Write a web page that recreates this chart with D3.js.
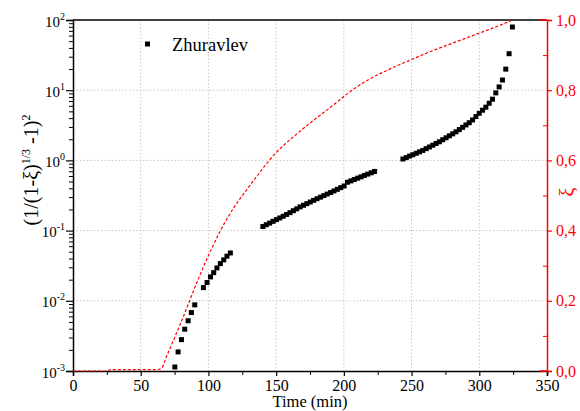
<!DOCTYPE html>
<html><head><meta charset="utf-8">
<script src="https://cdn.jsdelivr.net/npm/d3@7"></script>
<style>body{margin:0;background:#fff}svg{display:block}</style>
</head><body>
<svg id="c" width="580" height="411"></svg>
<script>
// ---- data ----
const seriesName = "Zhuravlev";
const timeSeg1 = [75.2,77.6,80.1,82.5,85.0,87.4,89.9,96.3,99.0,101.5,103.9,106.3,108.8,111.3,113.7,116.2];
const valSeg1 = [0.00114,0.00187,0.0028,0.00394,0.0052,0.0068,0.00875,0.0154,0.0182,0.0219,0.0252,0.0294,0.0339,0.0383,0.0432,0.0480];
const timeSeg2 = [140.2,142.7,145.2,147.7,150.2,152.7,155.2,157.7,160.2,162.7,165.2,167.7,170.2,172.7,175.2,177.7,180.2,182.7,185.2,187.7,190.2,192.7,195.2,197.7,200.2,202.7,205.2,207.7,210.2,212.7,215.2,217.7,220.2,222.7];
const valSeg2 = [0.1143,0.1211,0.1279,0.1355,0.1432,0.1514,0.1600,0.1698,0.1803,0.1919,0.2042,0.2178,0.2296,0.2421,0.2553,0.2698,0.2844,0.2992,0.3148,0.3311,0.3483,0.3673,0.3873,0.4093,0.4325,0.4887,0.5105,0.5346,0.5585,0.5834,0.6109,0.6383,0.6668,0.6966];
const timeSeg3 = [243.6,246.05,248.5,250.95,253.4,255.85,258.3,260.75,263.2,265.65,268.1,270.55,273.0,275.45,277.9,280.35,282.8,285.25,287.7,290.15,292.6,295.05,297.5,299.95,302.4,304.85,307.3,309.75,312.2,314.65,317.1,319.55,322.0,324.45];
const valSeg3 = [1.047,1.096,1.151,1.205,1.262,1.324,1.387,1.469,1.552,1.644,1.742,1.841,1.968,2.099,2.239,2.388,2.553,2.748,2.958,3.199,3.443,3.767,4.207,4.688,5.188,5.728,6.516,7.447,9.162,11.14,13.96,19.95,33.11,79.43];
const xiTime = [0,25,28,62,65.3,69,73.9,78.8,83.8,88.7,93.6,98.5,103.4,108.3,113.3,118.2,123,128,133,138,144,150,157,164.8,172,179.6,192,203,211,219,233.8,250.3,265.8,283,300.2,312,323.5];
const xiVal  = [0,0,0.004,0.004,0.008,0.041,0.085,0.130,0.177,0.226,0.272,0.316,0.357,0.396,0.431,0.462,0.489,0.515,0.541,0.566,0.596,0.622,0.648,0.674,0.697,0.720,0.757,0.791,0.813,0.832,0.860,0.888,0.913,0.938,0.963,0.980,0.998];
const xTicks = [0,50,100,150,200,250,300,350];
const xMinor = [25,75,125,175,225,275,325];
const yExps = [-3,-2,-1,0,1,2];
const y2Ticks = [0,0.2,0.4,0.6,0.8,1.0];
const y2Minor = [0.1,0.3,0.5,0.7,0.9];
const y2Labels = ["0,0","0,2","0,4","0,6","0,8","1,0"];

// ---- layout ----
const L=73,R=547,T=20,B=371;
const FONT="'Liberation Serif','Times New Roman',serif";
const svg=d3.select("#c");
const x=d3.scaleLinear().domain([0,350]).range([L,R]);
const y=d3.scaleLog().domain([1e-3,1e2]).range([B,T]);
const y2=d3.scaleLinear().domain([0,1]).range([B,T]);

// grid
const g=svg.append("g");
g.selectAll("line.vg").data(xTicks.filter(d=>d>0&&d<350)).enter().append("line")
 .attr("x1",d=>x(d)).attr("x2",d=>x(d)).attr("y1",T).attr("y2",B)
 .attr("stroke","#c8c8c8").attr("stroke-dasharray","1.5,2");
g.selectAll("line.hg").data(yExps.filter(e=>e>-3&&e<2)).enter().append("line")
 .attr("x1",L).attr("x2",R).attr("y1",e=>y(Math.pow(10,e))).attr("y2",e=>y(Math.pow(10,e)))
 .attr("stroke","#c8c8c8").attr("stroke-dasharray","1.5,2");

// top border
svg.append("line").attr("x1",L).attr("x2",R).attr("y1",T).attr("y2",T).attr("stroke","#000").attr("stroke-width",1.5);

// bottom axis
const xAxis=d3.axisBottom(x).tickValues(xTicks).tickSize(5).tickPadding(4).tickFormat(d3.format("d"));
const xa=svg.append("g").attr("transform",`translate(0,${B})`).call(xAxis);
xa.select(".domain").attr("stroke-width",1.5);
xa.selectAll(".tick line").attr("stroke-width",1.2);
xa.selectAll("text").attr("font-family",FONT).attr("font-size",16).attr("fill","#000");
const xm=d3.axisBottom(x).tickValues(xMinor).tickSize(4).tickFormat("");
svg.append("g").attr("transform",`translate(0,${B})`).call(xm).call(s=>s.select(".domain").remove());

// left axis
const minorVals=[];
for(let e=-3;e<2;e++){for(let k=2;k<10;k++)minorVals.push(k*Math.pow(10,e));}
const yAxis=d3.axisLeft(y).tickValues(yExps.map(e=>Math.pow(10,e))).tickSize(7).tickFormat("");
const ya=svg.append("g").attr("transform",`translate(${L},0)`).call(yAxis);
ya.select(".domain").attr("stroke-width",1.5);
ya.selectAll(".tick line").attr("stroke-width",1.2);
svg.append("g").attr("transform",`translate(${L},0)`).call(d3.axisLeft(y).tickValues(minorVals).tickSize(4).tickFormat("")).call(s=>s.select(".domain").remove());
ya.selectAll(".tick").each(function(d,i){
  const t=d3.select(this).append("text").attr("x",-8).attr("y",6).attr("text-anchor","end")
   .attr("font-family",FONT).attr("font-size",15).attr("fill","#000");
  t.append("tspan").text("10");
  t.append("tspan").attr("dy",-7).attr("font-size",10).text(String(yExps[i]));
});

// right axis
const y2a=svg.append("g").attr("transform",`translate(${R},0)`)
 .call(d3.axisRight(y2).tickValues(y2Ticks).tickSize(5).tickPadding(4).tickFormat((d,i)=>y2Labels[i]));
y2a.select(".domain").attr("stroke","#ff0000").attr("stroke-width",1.5);
y2a.selectAll(".tick line").attr("stroke","#ff0000").attr("stroke-width",1.2);
y2a.selectAll("text").attr("fill","#ff0000").attr("font-family",FONT).attr("font-size",16);
svg.append("g").attr("transform",`translate(${R},0)`)
 .call(d3.axisLeft(y2).tickValues(y2Minor).tickSize(4).tickFormat(""))
 .call(s=>s.select(".domain").remove()).selectAll("line").attr("stroke","#ff0000");
svg.append("g").selectAll("line").data([0,1]).enter().append("line")
 .attr("x1",R-7).attr("x2",R).attr("y1",d=>y2(d)).attr("y2",d=>y2(d)).attr("stroke","#ff0000").attr("stroke-width",1.5);

// xi curve
const xiData=xiTime.map((t,i)=>[t,xiVal[i]]);
svg.append("path").datum(xiData)
 .attr("d",d3.line().x(d=>x(d[0])).y(d=>y2(d[1])).curve(d3.curveMonotoneX))
 .attr("fill","none").attr("stroke","#ff0000").attr("stroke-width",1.2).attr("stroke-dasharray","3,2");

// points
const pts=[];
[[timeSeg1,valSeg1],[timeSeg2,valSeg2],[timeSeg3,valSeg3]].forEach(([ts,vs])=>ts.forEach((t,i)=>pts.push([t,vs[i]])));
const S=5;
svg.append("g").selectAll("rect").data(pts).enter().append("rect")
 .attr("x",d=>x(d[0])-S/2).attr("y",d=>y(d[1])-S/2).attr("width",S).attr("height",S).attr("fill","#000");

// legend
svg.append("rect").attr("x",145).attr("y",41.5).attr("width",5).attr("height",5).attr("fill","#000");
svg.append("text").attr("x",172).attr("y",51).attr("font-family",FONT).attr("font-size",18.5).attr("fill","#000").text(seriesName);

// axis titles
const yt=svg.append("text").attr("transform","translate(38,170) rotate(-90)").attr("text-anchor","middle")
 .attr("font-family",FONT).attr("font-size",20).attr("fill","#000");
yt.append("tspan").text("(1/(1-ξ)");
yt.append("tspan").attr("dy",-8).attr("font-size",12).text("1/3");
yt.append("tspan").attr("dy",8).text(" -1)");
yt.append("tspan").attr("dy",-8).attr("font-size",12).text("2");
svg.append("text").attr("x",310).attr("y",407).attr("text-anchor","middle")
 .attr("font-family",FONT).attr("font-size",16.5).attr("fill","#000").text("Time (min)");
svg.append("text").attr("transform","translate(574,192) rotate(-90)").attr("text-anchor","middle")
 .attr("font-family",FONT).attr("font-size",20).attr("fill","#ff0000").text("ξ");
</script>
</body></html>
